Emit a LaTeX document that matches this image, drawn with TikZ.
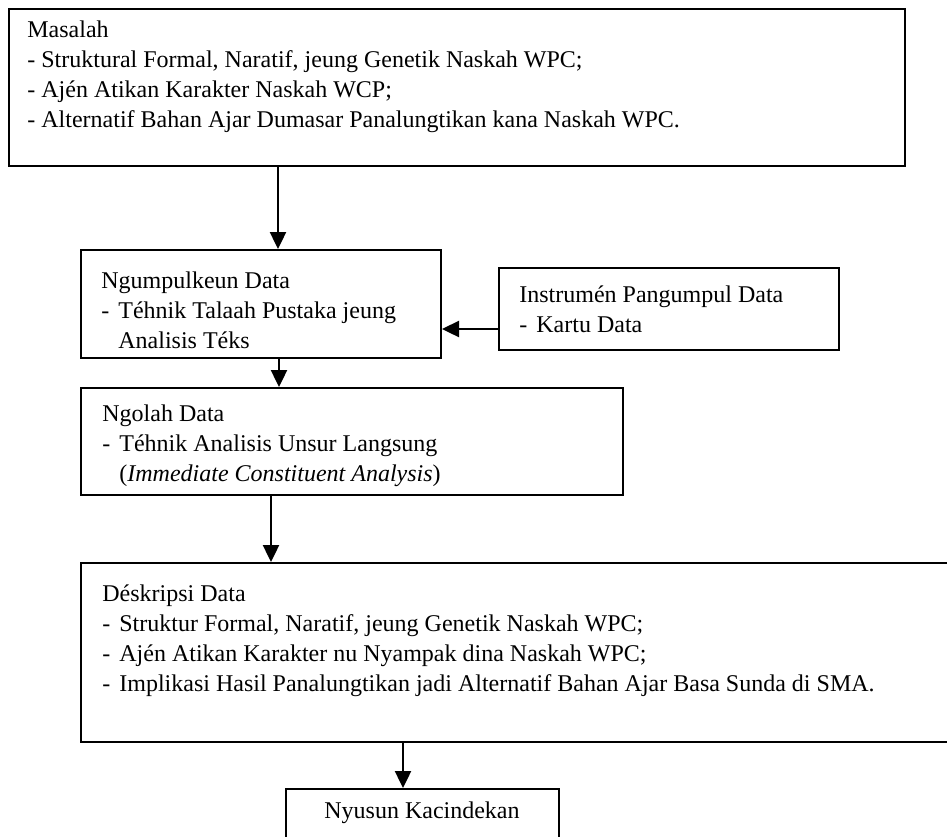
\documentclass[tikz,border=0pt]{standalone}
\usepackage{fontspec}
\setmainfont{Liberation Serif}
\usetikzlibrary{arrows.meta,fit}

\newcommand{\dsh}{\makebox[8.5pt][l]{-}}

\begin{document}
\begin{tikzpicture}[x=0.5pt,y=-0.5pt,
  box/.style={draw, line width=1pt, inner sep=0pt},
  txt/.style={anchor=north west, align=left, inner sep=0pt, font=\fontsize{12}{15}\selectfont},
  arr/.style={line width=1.2pt, -{Triangle[length=8.5pt,width=8pt]}}]

\useasboundingbox (0,0) rectangle (947,836);
\clip (0,0) rectangle (947,836);

% frames
\node[box, fit={(9,9) (905,166)}] (masalah) {};
\node[box, fit={(81,250) (441,358)}] (ngumpul) {};
\node[box, fit={(499,268) (839,350)}] (instrumen) {};
\node[box, fit={(81,388) (623,495)}] (ngolah) {};
\node[box, fit={(81,563) (960,742)}] (deskripsi) {};
\node[box, fit={(286,789) (559,850)}] (nyusun) {};

% texts
\node[txt] (tmasalah) at (27,20) {Masalah\\
  - Struktural Formal, Naratif, jeung Genetik Naskah WPC;\\
  - Aj\'en Atikan Karakter Naskah WCP;\\
  - Alternatif Bahan Ajar Dumasar Panalungtikan kana Naskah WPC.};
\node[txt] (tngumpul) at (101,271) {Ngumpulkeun Data\\
  \dsh T\'ehnik Talaah Pustaka jeung\\
  \hspace{8.5pt}Analisis T\'eks};
\node[txt] (tinstrumen) at (519,285) {Instrum\'en Pangumpul Data\\
  \dsh Kartu Data};
\node[txt] (tngolah) at (102,404) {Ngolah Data\\
  \dsh T\'ehnik Analisis Unsur Langsung\\
  \hspace{8.5pt}(\textit{Immediate Constituent Analysis})};
\node[txt] (tdeskripsi) at (102,584) {D\'eskripsi Data\\
  \dsh Struktur Formal, Naratif, jeung Genetik Naskah WPC;\\
  \dsh Aj\'en Atikan Karakter nu Nyampak dina Naskah WPC;\\
  \dsh Implikasi Hasil Panalungtikan jadi Alternatif Bahan Ajar Basa Sunda di SMA.};
\node[font=\fontsize{12}{15}\selectfont, inner sep=0pt] (tnyusun) at (422,813) {Nyusun Kacindekan};

% arrows
\draw[arr] (masalah.south -| 278,0) -- (ngumpul.north -| 278,0);
\draw[arr] (instrumen.west |- 0,329) -- (ngumpul.east |- 0,329);
\draw[arr] (ngumpul.south -| 279,0) -- (ngolah.north -| 279,0);
\draw[arr] (ngolah.south -| 271,0) -- (deskripsi.north -| 271,0);
\draw[arr] (deskripsi.south -| 403,0) -- (nyusun.north -| 403,0);
\end{tikzpicture}
\end{document}
